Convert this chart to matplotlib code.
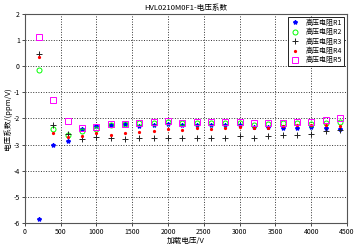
import matplotlib
matplotlib.use("Agg")
import matplotlib.pyplot as plt

plt.rcParams['font.family'] = ['Noto Sans CJK SC', 'DejaVu Sans']
plt.rcParams['axes.unicode_minus'] = False

voltage = [200, 400, 600, 800, 1000, 1200, 1400, 1600, 1800, 2000, 2200,
           2400, 2600, 2800, 3000, 3200, 3400, 3600, 3800, 4000, 4200, 4400]

r1 = [-5.85, -3.02, -2.88, -2.39, -2.30, -2.24, -2.20, -2.28, -2.26, -2.23, -2.26,
      -2.26, -2.26, -2.25, -2.25, -2.32, -2.34, -2.38, -2.35, -2.33, -2.35, -2.40]
r2 = [-0.13, -2.42, -2.62, -2.48, -2.42, -2.24, -2.22, -2.19, -2.19, -2.14, -2.19,
      -2.17, -2.19, -2.16, -2.16, -2.24, -2.22, -2.19, -2.19, -2.21, -2.19, -2.15]
r3 = [0.46, -2.26, -2.58, -2.80, -2.71, -2.73, -2.78, -2.76, -2.76, -2.76, -2.76,
      -2.76, -2.76, -2.75, -2.68, -2.75, -2.68, -2.65, -2.63, -2.60, -2.49, -2.46]
r4 = [0.36, -2.56, -2.71, -2.67, -2.56, -2.64, -2.56, -2.51, -2.49, -2.40, -2.43,
      -2.37, -2.40, -2.35, -2.31, -2.37, -2.37, -2.30, -2.26, -2.24, -2.26, -2.30]
r5 = [1.12, -1.28, -2.09, -2.36, -2.33, -2.20, -2.20, -2.16, -2.14, -2.09, -2.16,
      -2.14, -2.14, -2.12, -2.12, -2.19, -2.19, -2.16, -2.14, -2.14, -2.07, -2.00]

labels = ['高压电阻R1', '高压电阻R2', '高压电阻R3', '高压电阻R4', '高压电阻R5']
title = 'HVL0210M0F1-电压系数'
xlabel = '加载电压/V'
ylabel = '电压系数/(ppm/V)'

fig = plt.figure(figsize=(3.6, 2.44), dpi=100)
ax = fig.add_axes([0.069, 0.086, 0.895, 0.857])

ax.plot(voltage, r1, linestyle='none', marker='*', color='#0000ff', markersize=3, label=labels[0])
ax.plot(voltage, r2, linestyle='none', marker='o', mfc='none', mec='#00ff00', markersize=3.6, mew=0.7, label=labels[1])
ax.plot(voltage, r3, linestyle='none', marker='+', color='#222222', markersize=4, mew=0.7, label=labels[2])
ax.plot(voltage, r4, linestyle='none', marker='.', color='#ff0000', markersize=2.6, label=labels[3])
ax.plot(voltage, r5, linestyle='none', marker='s', mfc='none', mec='#ff00ff', markersize=4, mew=0.7, label=labels[4])

ax.set_xlim(0, 4500)
ax.set_ylim(-6, 2)
ax.set_xticks(range(0, 4501, 500))
ax.set_yticks(range(-6, 3, 1))
ax.grid(True, linestyle=':', color='#333333', linewidth=0.7)
ax.tick_params(labelsize=5, length=2, width=0.5, pad=1.5)
for s in ax.spines.values():
    s.set_linewidth(0.8)
    s.set_color('#555555')

ax.set_title(title, fontsize=5.5, pad=3)
ax.set_xlabel(xlabel, fontsize=5.5, labelpad=1)
ax.set_ylabel(ylabel, fontsize=5.5, labelpad=1)

leg = ax.legend(loc='upper right', fontsize=5, frameon=True, fancybox=False,
                edgecolor='black', framealpha=1, handlelength=1.5,
                borderpad=0.3, labelspacing=0.2, handletextpad=0.8,
                borderaxespad=0.4)
leg.get_frame().set_linewidth(0.6)

fig.savefig('out.png', dpi=100)
